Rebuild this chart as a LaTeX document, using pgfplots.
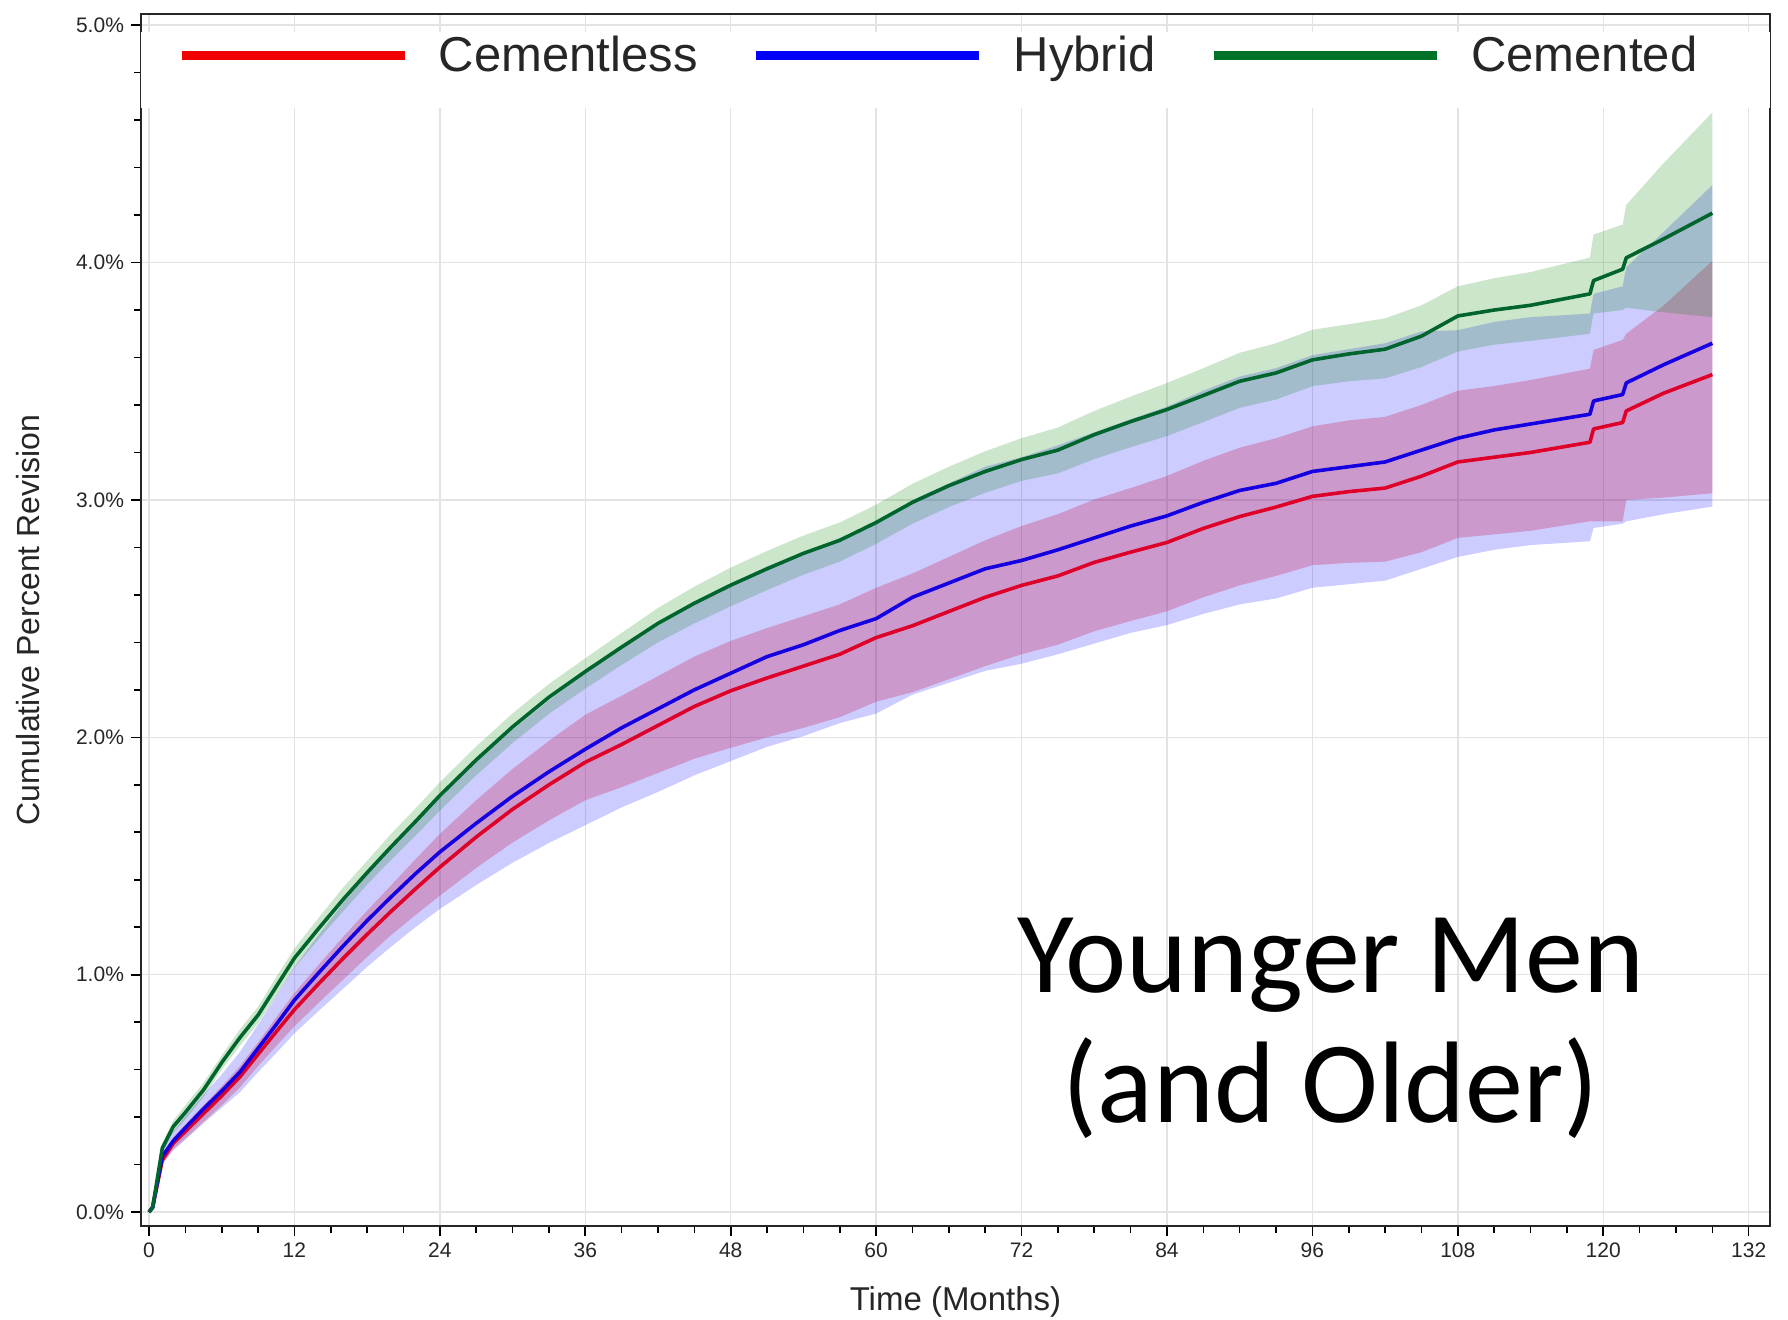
\documentclass[border=0pt]{standalone}
\usepackage{fontspec}
\setmainfont{Liberation Sans}
\newfontfamily\carlito{Carlito}
\usepackage{pgfplots}
\usepackage{pgfplotstable}
\usepgfplotslibrary{fillbetween}
\pgfplotsset{compat=1.18}
\definecolor{cRed}{RGB}{222,0,40}
\definecolor{cBlue}{RGB}{20,0,225}
\definecolor{cGreen}{RGB}{0,100,45}
\definecolor{lRed}{RGB}{240,0,0}
\definecolor{lBlue}{RGB}{0,0,250}
\definecolor{lGreen}{RGB}{0,115,40}

\pgfplotstableread{
t lo y hi
0 0 0 0
0.3 0.015 0.02 0.025
1.1 0.20 0.22 0.24
2 0.265 0.29 0.315
3 0.31 0.34 0.37
4.5 0.38 0.415 0.45
6 0.45 0.49 0.53
7.5 0.525 0.57 0.615
9 0.615 0.665 0.715
10.5 0.70 0.76 0.82
12 0.783 0.853 0.923
14 0.882 0.962 1.042
16 0.978 1.068 1.158
18 1.075 1.170 1.270
20 1.168 1.268 1.378
22 1.252 1.362 1.487
24 1.333 1.453 1.593
27 1.45 1.58 1.735
30 1.557 1.697 1.867
33 1.65 1.80 1.985
36 1.735 1.895 2.095
39 1.79 1.97 2.175
42 1.85 2.05 2.258
45 1.91 2.13 2.34
48 1.956 2.196 2.406
51 2.00 2.25 2.46
54 2.04 2.30 2.51
57 2.085 2.35 2.56
60 2.15 2.42 2.63
63 2.19 2.47 2.69
66 2.245 2.53 2.76
69 2.30 2.59 2.83
72 2.35 2.64 2.89
75 2.39 2.68 2.94
78 2.447 2.737 3.002
81 2.49 2.78 3.05
84 2.531 2.821 3.101
87 2.59 2.88 3.165
90 2.64 2.93 3.22
93 2.68 2.97 3.26
96 2.725 3.015 3.31
99 2.735 3.035 3.335
102 2.74 3.05 3.35
105 2.78 3.10 3.40
108 2.84 3.16 3.46
111 2.855 3.18 3.48
114 2.87 3.20 3.505
118.9 2.91 3.243 3.553
119.2 2.91 3.299 3.632
121.6 2.91 3.326 3.674
121.9 3.00 3.375 3.70
125 3.01 3.45 3.82
129 3.028 3.528 4.007
}\tabRed

\pgfplotstableread{
t lo y hi
0 0 0 0
0.3 0.015 0.02 0.025
1.1 0.205 0.235 0.265
2 0.26 0.30 0.34
3 0.305 0.355 0.405
4.5 0.375 0.435 0.495
6 0.44 0.51 0.58
7.5 0.505 0.59 0.675
9 0.59 0.69 0.79
10.5 0.67 0.79 0.91
12 0.753 0.893 1.033
14 0.848 1.008 1.168
16 0.94 1.12 1.30
18 1.033 1.228 1.423
20 1.119 1.329 1.539
22 1.201 1.426 1.651
24 1.277 1.517 1.757
27 1.378 1.638 1.898
30 1.472 1.752 2.032
33 1.555 1.855 2.155
36 1.63 1.95 2.27
39 1.705 2.04 2.375
42 1.77 2.12 2.47
45 1.84 2.20 2.56
48 1.90 2.27 2.64
51 1.96 2.34 2.72
54 2.005 2.39 2.775
57 2.06 2.45 2.84
60 2.10 2.50 2.90
63 2.18 2.59 3.00
66 2.23 2.65 3.07
69 2.28 2.71 3.14
72 2.31 2.745 3.18
75 2.35 2.79 3.23
78 2.395 2.84 3.285
81 2.44 2.89 3.34
84 2.473 2.933 3.393
87 2.52 2.99 3.46
90 2.56 3.04 3.52
93 2.585 3.07 3.555
96 2.63 3.12 3.61
99 2.645 3.14 3.635
102 2.66 3.16 3.66
105 2.71 3.21 3.71
108 2.76 3.26 3.715
111 2.79 3.295 3.75
114 2.81 3.32 3.77
118.9 2.826 3.361 3.785
119.2 2.882 3.417 3.868
121.6 2.90 3.444 3.90
121.9 2.91 3.493 3.98
125 2.94 3.57 4.13
129 2.972 3.66 4.326
}\tabBlue

\pgfplotstableread{
t lo y hi
0 0 0 0
0.3 0.015 0.02 0.025
1.1 0.25 0.27 0.29
2 0.335 0.36 0.385
3 0.39 0.42 0.45
4.5 0.485 0.515 0.545
6 0.60 0.63 0.66
7.5 0.70 0.735 0.77
9 0.795 0.83 0.865
10.5 0.91 0.95 0.99
12 1.03 1.07 1.11
14 1.15 1.195 1.24
16 1.266 1.316 1.366
18 1.38 1.43 1.48
20 1.485 1.54 1.595
22 1.586 1.646 1.701
24 1.691 1.755 1.811
27 1.84 1.905 1.962
30 1.976 2.044 2.101
33 2.099 2.169 2.225
36 2.205 2.277 2.333
39 2.305 2.38 2.44
42 2.40 2.48 2.545
45 2.48 2.565 2.635
48 2.552 2.641 2.715
51 2.62 2.71 2.785
54 2.685 2.775 2.85
57 2.74 2.83 2.905
60 2.815 2.905 2.98
63 2.90 2.99 3.068
66 2.97 3.06 3.14
69 3.03 3.12 3.205
72 3.08 3.17 3.26
75 3.112 3.21 3.305
78 3.172 3.275 3.375
81 3.222 3.33 3.435
84 3.269 3.381 3.493
87 3.328 3.44 3.555
90 3.388 3.50 3.62
93 3.423 3.535 3.66
96 3.479 3.59 3.717
99 3.50 3.615 3.74
102 3.512 3.635 3.765
105 3.56 3.69 3.82
108 3.625 3.775 3.90
111 3.654 3.80 3.934
114 3.67 3.82 3.96
118.9 3.70 3.868 4.021
119.2 3.785 3.924 4.118
121.6 3.80 3.972 4.16
121.9 3.81 4.02 4.243
125 3.79 4.10 4.42
129 3.77 4.208 4.632
}\tabGreen

\begin{document}
\begin{tikzpicture}
\begin{axis}[
  at={(0pt,0pt)}, anchor=south west,
  scale only axis,
  width=814.5pt, height=606pt,
  xmin=-0.66, xmax=133.76,
  ymin=-0.0585, ymax=5.047,
  xtick={0,12,...,132},
  ytick={0,1,2,3,4,5},
  minor x tick num=3,
  minor y tick num=4,
  tick pos=left,
  tick align=outside,
  major tick length=5pt,
  minor tick length=3.5pt,
  every tick/.style={black, line width=0.8pt},
  axis line style={black!85, line width=1.3pt},
  grid=major,
  major grid style={gray!22, line width=0.7pt},
  /pgf/number format/assume math mode=true,
  yticklabel={\pgfmathprintnumber[fixed,fixed zerofill,precision=1]{\tick}\%},
  ticklabel style={font=\fontsize{10.5}{12}\selectfont, text=black!85},
  xlabel={Time (Months)},
  ylabel={Cumulative Percent Revision},
  xlabel style={at={(axis description cs:0.5,-0.0627)}, anchor=center, font=\fontsize{16.5}{19}\selectfont, text=black!85},
  ylabel style={at={(axis description cs:-0.0694,0.5)}, anchor=center, font=\fontsize{16}{19}\selectfont, text=black!85},
  legend columns=3,
  legend style={at={(axis description cs:0,1)}, anchor=north west,
    xshift=18pt, yshift=-11pt,
    draw=none, fill=none, inner sep=0pt, outer sep=0pt,
    font=\fontsize{24.5}{28}\selectfont, text=black!85,
    nodes={inner sep=0pt},
    /tikz/every odd column/.append style={column sep=15pt},
    /tikz/every even column/.append style={column sep=27pt}},
]
\addplot[draw=none, fill=white, forget plot] coordinates {(-0.66,4.6515) (133.76,4.6515) (133.76,4.971) (-0.66,4.971)} -- cycle;

% red band
\addplot[draw=none, name path=rU, forget plot] table[x=t,y=hi]{\tabRed};
\addplot[draw=none, name path=rL, forget plot] table[x=t,y=lo]{\tabRed};
\addplot[fill=red, fill opacity=0.25, draw=none, forget plot] fill between[of=rU and rL];
% blue band
\addplot[draw=none, name path=bU, forget plot] table[x=t,y=hi]{\tabBlue};
\addplot[draw=none, name path=bL, forget plot] table[x=t,y=lo]{\tabBlue};
\addplot[fill=blue, fill opacity=0.2, draw=none, forget plot] fill between[of=bU and bL];
% green band
\addplot[draw=none, name path=gU, forget plot] table[x=t,y=hi]{\tabGreen};
\addplot[draw=none, name path=gL, forget plot] table[x=t,y=lo]{\tabGreen};
\addplot[fill={rgb,255:red,0;green,128;blue,0}, fill opacity=0.2, draw=none, forget plot] fill between[of=gU and gL];

\addplot[cRed, line width=1.8pt, line join=round,
  legend image code/.code={\draw[lRed, line width=4.5pt] (0pt,-0.3pt) -- (111.5pt,-0.3pt);}]
  table[x=t,y=y]{\tabRed};
\addlegendentry{Cementless}
\addplot[cBlue, line width=1.8pt, line join=round,
  legend image code/.code={\draw[lBlue, line width=4.5pt] (0pt,-0.3pt) -- (111.5pt,-0.3pt);}]
  table[x=t,y=y]{\tabBlue};
\addlegendentry{Hybrid}
\addplot[cGreen, line width=1.8pt, line join=round,
  legend image code/.code={\draw[lGreen, line width=4.5pt] (0pt,-0.3pt) -- (111.5pt,-0.3pt);}]
  table[x=t,y=y]{\tabGreen};
\addlegendentry{Cemented}

\node[font=\carlito\fontsize{58}{64}\selectfont, anchor=base] at (rel axis cs:0.7305,0.193) {Younger Men};
\node[font=\carlito\fontsize{58}{64}\selectfont, anchor=base] at (rel axis cs:0.7305,0.085) {(and Older)};
\end{axis}
\pgfresetboundingbox
\useasboundingbox (-70.5pt,-46.5pt) rectangle (823.5pt,613pt);
\end{tikzpicture}
\end{document}
